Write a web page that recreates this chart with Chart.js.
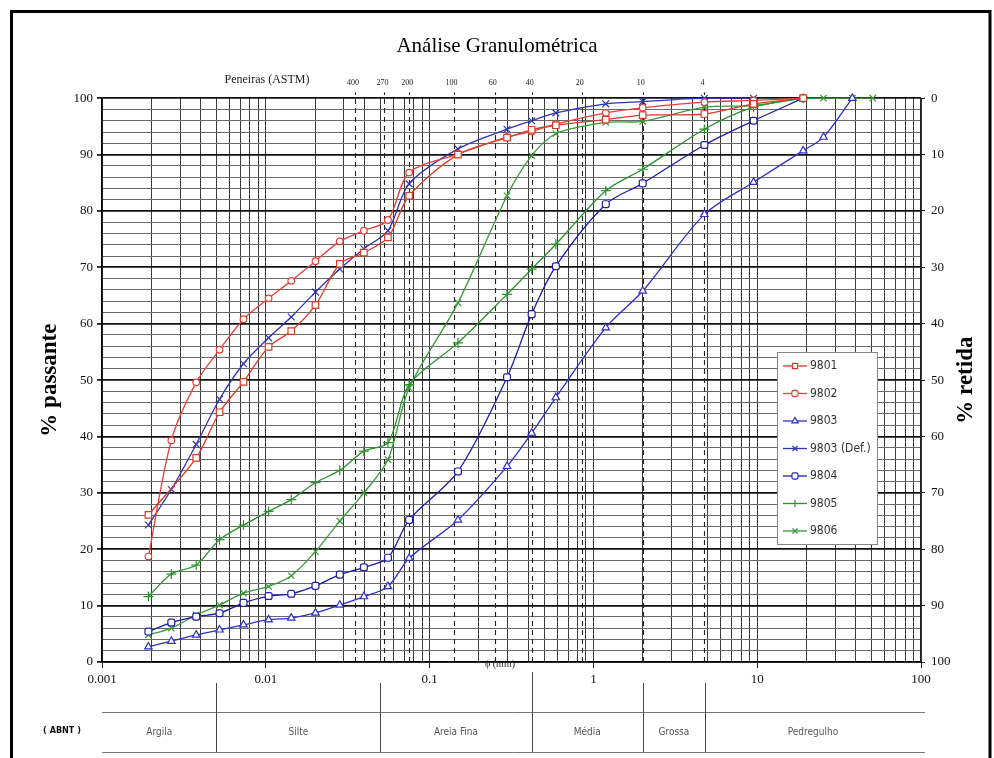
<!DOCTYPE html>
<html><head><meta charset="utf-8">
<script src="https://cdn.jsdelivr.net/npm/chart.js@4.4.0/dist/chart.umd.min.js"></script>
<style>html,body{margin:0;padding:0;background:#fff}#wrap{width:994px;height:758px;position:relative}</style>
</head><body><div id="wrap"><canvas id="c" width="994" height="758"></canvas></div>
<script>
// ---- data (diameters in mm, % passing) ----
const diameters = [0.00192,0.00265,0.00376,0.00522,0.00731,0.0104,0.0143,0.0201,0.0283,0.0397,0.0557,
                   0.075,0.149,0.297,0.42,0.59,1.19,2.0,4.76,9.5,19.1,25.4,38.1,50.8];
const s9801    = [26.1,null,36.2,44.3,49.7,55.9,58.7,63.3,70.6,72.6,75.3, 82.7,90.0,93.0,94.4,95.2,96.2,97.0,97.2,99.0,100,null,null,null];
const s9802    = [18.7,39.3,49.6,55.4,60.8,64.5,67.6,71.1,74.6,76.5,78.4, 86.8,90.1,93.1,94.1,95.4,97.4,98.3,99.3,99.6,100,null,null,null];
const s9803    = [2.7,3.7,4.8,5.7,6.6,7.5,7.8,8.7,10.1,11.6,13.4, 18.4,25.2,34.7,40.6,46.9,59.3,65.8,79.4,85.1,90.7,93.1,100,null];
const s9803def = [24.3,30.6,38.6,46.6,52.9,57.5,61.2,65.6,69.7,73.3,76.5, 84.8,91.0,94.5,96.0,97.4,99.0,99.4,100,100,null,null,null,null];
const s9804    = [5.4,7.0,8.05,8.65,10.5,11.7,12.1,13.5,15.5,16.8,18.5, 25.2,33.8,50.5,61.7,70.2,81.2,84.9,91.7,96.0,100,null,null,null];
const s9805    = [11.6,15.6,17.2,21.7,24.3,26.7,28.8,31.8,34.0,37.4,38.9, 49.2,56.6,65.2,69.7,74.1,83.6,87.4,94.5,98.4,100,null,null,null];
const s9806    = [4.8,6.0,8.35,10.1,12.2,13.4,15.3,19.6,25.0,30.0,35.9, 48.6,63.7,82.7,89.8,93.7,95.7,95.9,98.4,98.7,100,100,100,100];
const seriesNames = ['9801','9802','9803','9803 (Def.)','9804','9805','9806'];

const sieveNumbers = ['400','270','200','100','60','40','20','10','4'];
const sieveSizes   = [0.035,0.053,0.075,0.14,0.25,0.42,0.85,2.0,4.76];

const xTickValues = [0.001,0.01,0.1,1,10,100];
const xTickLabels = ['0.001','0.01','0.1','1','10','100'];

const abntBounds  = [0.001,0.005,0.05,0.42,2.0,4.8,100];
const abntClasses = ['Argila','Silte','Areia Fina','Média','Grossa','Pedregulho'];

// ---- styles ----
const styles = [
  {c:'#dc3b26', ps:'rect',        r:4.6},
  {c:'#e6403a', ps:'circle',      r:3.3},
  {c:'#2f2fcc', ps:'triangle',    r:4.3},
  {c:'#3434b4', ps:'crossRot',    r:4.8},
  {c:'#1e1ea8', ps:'rectRounded', r:4.0},
  {c:'#2a922a', ps:'cross',       r:5.0},
  {c:'#3a9a3a', ps:'crossRot',    r:4.5}
];
const allSeries = [s9801,s9802,s9803,s9803def,s9804,s9805,s9806];

const datasets = allSeries.map((vals,k)=>({
  label: seriesNames[k],
  data: diameters.map((d,i)=>({x:d,y:vals[i]})).filter(p=>p.y!==null),
  borderColor: styles[k].c,
  backgroundColor: '#fff',
  pointBorderColor: styles[k].c,
  pointBackgroundColor: '#fff',
  pointStyle: styles[k].ps,
  pointRadius: styles[k].r,
  pointBorderWidth: 1.2,
  borderWidth: 1.3,
  tension: 0.3,
  showLine: true,
  clip: false
}));

const serif = '"Liberation Serif","Times New Roman",serif';
const narrow = '"DejaVu Sans Condensed","Liberation Sans Narrow","Liberation Sans",sans-serif';

const extras = {
  id: 'extras',
  beforeDatasetsDraw(chart){
    const {ctx, chartArea:a, scales:{x}} = chart;
    ctx.save();
    ctx.strokeStyle = '#222'; ctx.lineWidth = 1.1; ctx.setLineDash([5,4]);
    sieveSizes.forEach(d=>{
      const px = Math.round(x.getPixelForValue(d))+0.5;
      ctx.beginPath(); ctx.moveTo(px, a.bottom); ctx.lineTo(px, a.top-6); ctx.stroke();
    });
    ctx.restore();
  },
  afterDraw(chart){
    const {ctx, chartArea:a, scales:{x}} = chart;
    ctx.save();
    // sieve labels
    ctx.fillStyle = '#222'; ctx.textAlign='center'; ctx.textBaseline='middle';
    ctx.font = '8px '+serif;
    sieveSizes.forEach((d,i)=>{ ctx.fillText(sieveNumbers[i], x.getPixelForValue(d)-2, 83); });
    ctx.font = '12px '+serif;
    ctx.fillText('Peneiras (ASTM)', 267, 80);
    // phi label
    ctx.font = '10px '+serif;
    ctx.fillText('\u03d5 (mm)', 500, 664);
    // right axis title
    ctx.save();
    ctx.translate(966, (a.top+a.bottom)/2);
    ctx.rotate(-Math.PI/2);
    ctx.font = 'bold 23px '+serif;
    ctx.fillStyle = '#000';
    ctx.fillText('% retida', 0, 0);
    ctx.restore();
    // ABNT table
    ctx.strokeStyle = '#777'; ctx.lineWidth = 1;
    ctx.beginPath(); ctx.moveTo(a.left, 712.5); ctx.lineTo(a.right+4, 712.5); ctx.stroke();
    ctx.beginPath(); ctx.moveTo(a.left, 752.5); ctx.lineTo(a.right+4, 752.5); ctx.stroke();
    ctx.strokeStyle = '#444';
    for (let i=1;i<abntBounds.length-1;i++){
      const px = Math.round(x.getPixelForValue(abntBounds[i]))+0.5;
      ctx.beginPath(); ctx.moveTo(px, i===3?672:683); ctx.lineTo(px, 752); ctx.stroke();
    }
    ctx.fillStyle = '#555'; ctx.font = '10px '+narrow;
    for (let i=0;i<abntClasses.length;i++){
      const cx = (x.getPixelForValue(abntBounds[i])+x.getPixelForValue(abntBounds[i+1]))/2;
      ctx.fillText(abntClasses[i], cx, 732);
    }
    ctx.fillStyle = '#111'; ctx.font = 'bold 9px '+narrow;
    ctx.fillText('( ABNT )', 62, 731);
    // legend
    const lx=777, ly=352, lw=100, lh=192;
    ctx.fillStyle='#fff'; ctx.fillRect(lx,ly,lw,lh);
    ctx.strokeStyle='#888'; ctx.lineWidth=1; ctx.strokeRect(lx+0.5,ly+0.5,lw,lh);
    ctx.textAlign='left';
    chart.data.datasets.forEach((ds,i)=>{
      const yy = 366 + i*27.5;
      ctx.strokeStyle = ds.borderColor; ctx.lineWidth=1.3;
      ctx.beginPath(); ctx.moveTo(783,yy); ctx.lineTo(807,yy); ctx.stroke();
      ctx.fillStyle='#fff'; ctx.lineWidth=1.2;
      Chart.helpers.drawPoint(ctx,{pointStyle:ds.pointStyle, radius:Math.min(ds.pointRadius,3.6), rotation:0, borderWidth:1.2}, 795, yy);
      ctx.fillStyle='#333'; ctx.font='12px '+narrow;
      ctx.fillText(ds.label, 810, yy);
    });
    // outer frame
    ctx.strokeStyle='#000'; ctx.lineWidth=3;
    ctx.beginPath(); ctx.moveTo(11.5,760); ctx.lineTo(11.5,11.5); ctx.lineTo(990,11.5); ctx.lineTo(990,760); ctx.stroke();
    ctx.restore();
  }
};

new Chart(document.getElementById('c'), {
  type: 'scatter',
  data: {datasets},
  options: {
    responsive:false, animation:false, devicePixelRatio:1,
    layout:{padding:0},
    plugins:{
      legend:{display:false},
      tooltip:{enabled:false},
      title:{display:true, text:'Análise Granulométrica', color:'#000',
             font:{family:serif, size:21, weight:'normal', lineHeight:1.2},
             padding:{top:34, bottom:39}}
    },
    scales:{
      x:{type:'logarithmic', min:0.001, max:100, position:'bottom',
         afterBuildTicks(scale){
           const t=[];
           for(let e=-3;e<=1;e++){ for(let s=1;s<=9;s++){ t.push({value:+(s*Math.pow(10,e)).toPrecision(3), major:s===1}); } }
           t.push({value:100, major:true});
           scale.ticks=t;
         },
         afterFit(scale){ scale.height = 96; },
         ticks:{autoSkip:false, maxRotation:0, padding:4, color:'#111', font:{family:serif,size:13},
                callback(v){ const i=xTickValues.findIndex(t=>Math.abs(t-v)/t<1e-6); return i>=0?xTickLabels[i]:''; }},
         grid:{color:'#3a3a3a', lineWidth:1, tickLength:6,
               tickColor:(c)=> (c.tick && c.tick.major) ? '#222' : 'rgba(0,0,0,0)'},
         border:{color:'#000', width:1.5}
      },
      y:{min:0, max:100, position:'left',
         afterFit(scale){ scale.width = 102; },
         ticks:{stepSize:2, autoSkip:false, padding:4, color:'#111', font:{family:serif,size:13},
                callback(v){ return v%10===0 ? String(v) : ''; }},
         grid:{color:(c)=> c.tick && c.tick.value%10===0 ? '#111' : '#6a6a6a',
               lineWidth:(c)=> c.tick && c.tick.value%10===0 ? 1.8 : 1,
               tickLength:5,
               tickColor:(c)=> c.tick && c.tick.value%10===0 ? '#222' : 'rgba(0,0,0,0)'},
         border:{color:'#000', width:1.5},
         title:{display:true, text:'% passante', color:'#000', font:{family:serif,size:23,weight:'bold'}, padding:{top:36,bottom:0}}
      },
      y2:{min:0, max:100, reverse:true, position:'right',
         afterFit(scale){ scale.width = 73; },
         ticks:{stepSize:10, padding:6, color:'#111', font:{family:serif,size:13}},
         grid:{drawOnChartArea:false, tickLength:4, color:'#222'},
         border:{color:'#222', width:1.2}
      }
    }
  },
  plugins:[extras]
});
</script></body></html>
